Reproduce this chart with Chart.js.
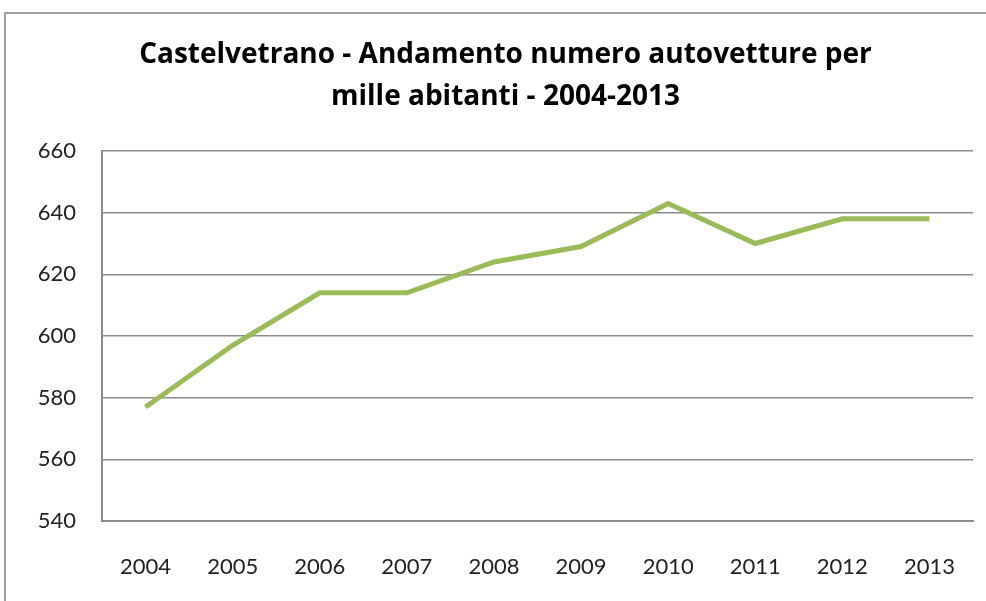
<!DOCTYPE html>
<html>
<head>
<meta charset="utf-8">
<script src="https://cdn.jsdelivr.net/npm/chart.js@4/dist/chart.umd.min.js"></script>
<style>
html,body{margin:0;padding:0;background:#fff;}
#wrap{position:relative;width:986px;height:601px;}
#frame{position:absolute;left:4px;top:12px;width:990px;height:600px;border-left:2px solid #a0a0a0;border-top:2px solid #a0a0a0;box-sizing:border-box;pointer-events:none;}
canvas{position:absolute;left:0;top:0;}
</style>
</head>
<body>
<div id="wrap">
<canvas id="c" width="986" height="601"></canvas>
<div id="frame"></div>
</div>
<script>
const titleLines = ["Castelvetrano - Andamento numero autovetture per", "mille abitanti - 2004-2013"];
const years = ["2004","2005","2006","2007","2008","2009","2010","2011","2012","2013"];
const carsPerThousand = [577, 597, 614, 614, 624, 629, 643, 630, 638, 638];
const yMin = 540, yMax = 660, yStep = 20;

new Chart(document.getElementById('c'), {
  type: 'line',
  data: {
    labels: years,
    datasets: [{
      data: carsPerThousand,
      borderColor: '#9bbb59',
      borderWidth: 5,
      pointRadius: 0,
      tension: 0,
      fill: false
    }]
  },
  options: {
    responsive: false,
    animation: false,
    layout: { padding: { left: 38, right: 13, top: 12, bottom: 0 } },
    plugins: {
      legend: { display: false },
      tooltip: { enabled: false },
      title: {
        display: true,
        text: titleLines,
        color: '#000',
        font: { family: 'Open Sans', size: 28, weight: 'bold', lineHeight: 1.5 },
        padding: { top: 22, bottom: 33 }
      }
    },
    scales: {
      x: {
        offset: true,
        grid: { display: true, drawOnChartArea: false, drawTicks: true, tickLength: 33, tickColor: 'rgba(0,0,0,0)' },
        border: { display: true, color: '#8c8c8c', width: 2 },
        ticks: { color: '#222', font: { family: 'Lato', size: 22 }, padding: 0, maxRotation: 0 },
        afterFit: s => { s.height = 80; }
      },
      y: {
        min: yMin, max: yMax,
        grid: { color: '#8c8c8c', lineWidth: 1.5, drawTicks: false },
        border: { display: true, color: '#8c8c8c', width: 2 },
        ticks: { stepSize: yStep, color: '#222', font: { family: 'Lato', size: 22 }, padding: 26 },
        afterFit: s => { s.width = 64; }
      }
    }
  }
});
</script>
</body>
</html>
